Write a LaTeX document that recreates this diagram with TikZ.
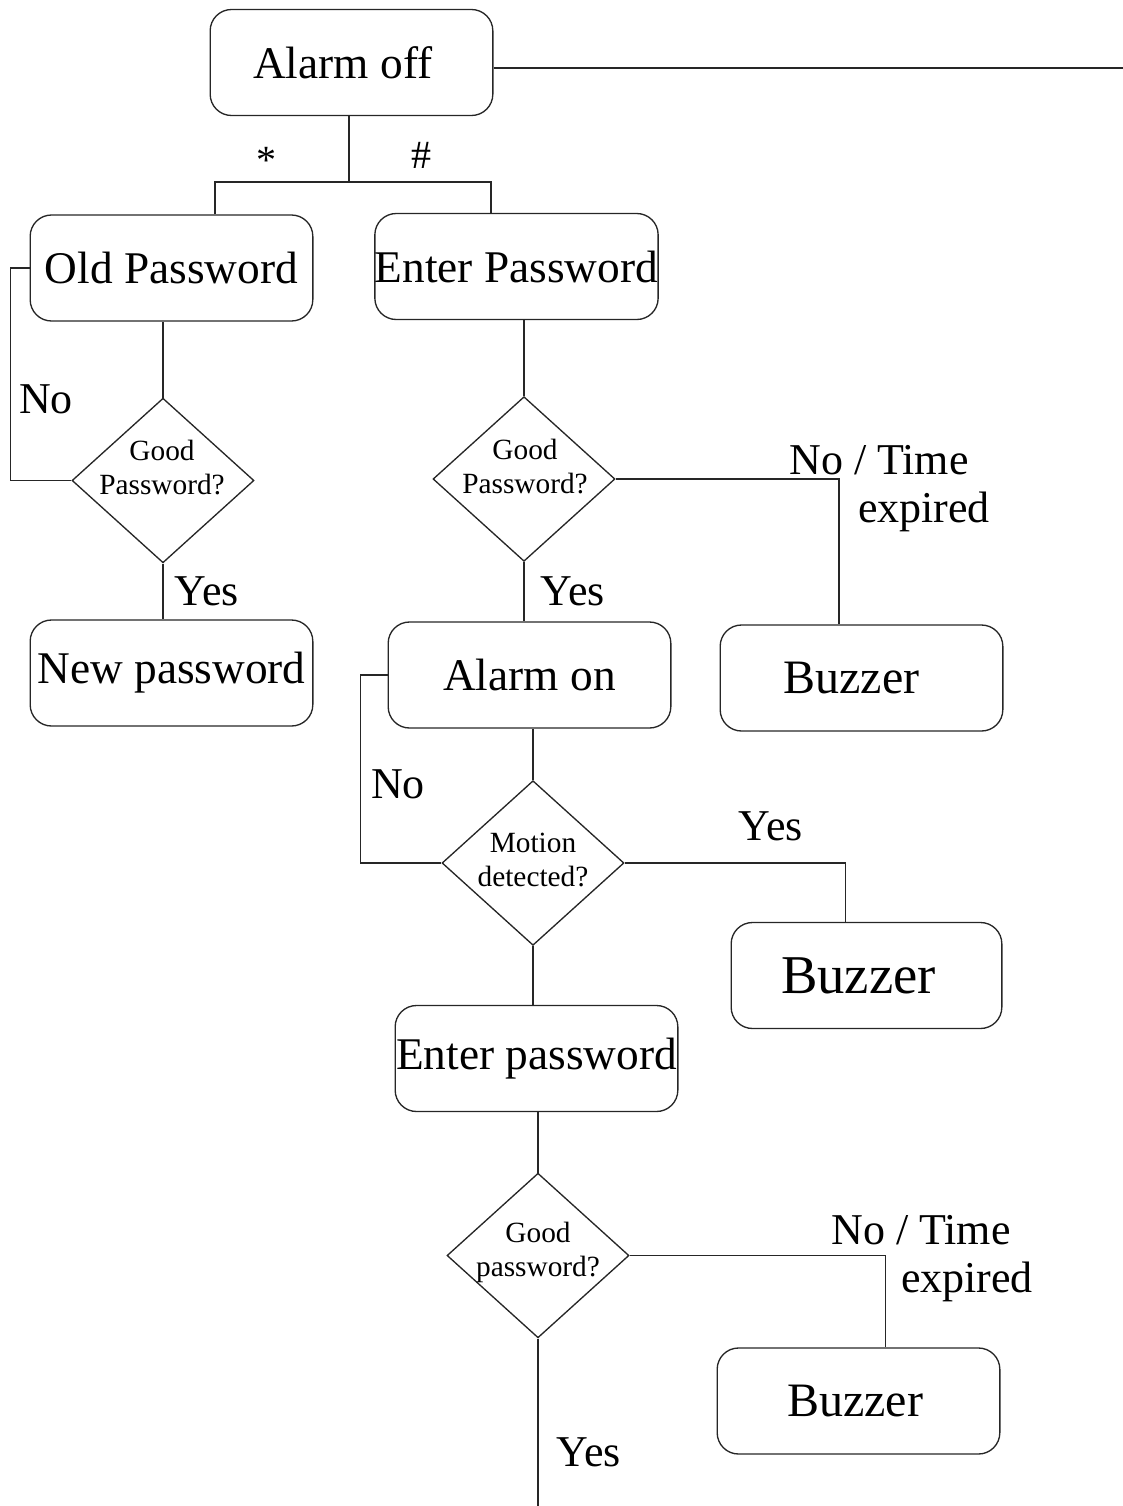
\documentclass[tikz,border=0pt]{standalone}
\usepackage{fontspec}
\setmainfont{Liberation Serif}
\usetikzlibrary{shapes.geometric}

\tikzset{
  state/.style={draw, rounded corners=16pt, minimum width=212pt, minimum height=79.5pt, inner sep=0pt, font=\fontsize{34}{40}\selectfont},
  ask/.style={draw, diamond, minimum width=136.5pt, minimum height=123.5pt, inner sep=0pt},
  asktext/.style={align=center, inner sep=0pt, font=\fontsize{22}{25.5}\selectfont},
  answer/.style={inner sep=0pt, font=\fontsize{33}{38}\selectfont},
}
% pushes a box text a little to the left
\newcommand{\lpad}[1]{\hskip#1\null}

\begin{document}
\begin{tikzpicture}[x=0.75pt,y=0.75pt,yscale=-1,xscale=1,line width=1pt,draw=black!85]
\useasboundingbox (0,0) rectangle (1123,1506);

%Boxes
\node[state] (off) at (351.5,62.5) {Alarm off\lpad{13pt}};
\node[state] (old) at (171.5,268) {Old Password};
\node[state] (enter) at (516.5,266.5) {Enter Password};
\node[state] (newpw) at (171.5,673) {New password};
\node[state] (on) at (529.5,675) {Alarm on};
\node[state, font=\fontsize{36}{42}\selectfont] (buzz1) at (861.5,678) {Buzzer\lpad{15pt}};
\node[state, minimum width=203pt, font=\fontsize{41}{48}\selectfont] (buzz2) at (866.5,975.5) {Buzzer\lpad{12pt}};
\node[state] (enter2) at (536.5,1058.5) {Enter password};
\node[state, font=\fontsize{36}{42}\selectfont] (buzz3) at (858.5,1401) {Buzzer\lpad{5pt}};

%Decisions
\node[ask] (q1) at (163,480.5) {};
\node[asktext] (q1t) at (162,468) {Good\\Password?};
\node[ask] (q2) at (524,479) {};
\node[asktext] (q2t) at (525,467) {Good\\Password?};
\node[ask] (q3) at (533,863) {};
\node[asktext] (q3t) at (533,860) {Motion\\detected?};
\node[ask] (q4) at (538,1255.5) {};
\node[asktext] (q4t) at (538,1252) {Good\\password?};

%Free ends
\coordinate (offend) at (1123,68);
\coordinate (split) at (349,182);
\coordinate (star) at (215,182);
\coordinate (hash) at (491,182);
\coordinate (exit) at (538,1506);

%Links
\draw (off.east |- offend) -- (offend);
\draw (split |- off.south) -- (split);
\draw (star |- old.north) -- (star) -- (hash) -- (hash |- enter.north);
\draw (q1.north) -- (q1.north |- old.south);
\draw (q1.west) -- ++(-61,0) |- (old.west);
\draw (q1.south) -- (q1.south |- newpw.north);
\draw (q2.north) -- (q2.north |- enter.south);
\draw (q2.east) -| ([xshift=-17pt]buzz1.north);
\draw (q2.south) -- (q2.south |- on.north);
\draw (on.west) -- ++(-27,0) |- (q3.west);
\draw (q3.north) -- (q3.north |- on.south);
\draw (q3.east) -| ([xshift=-16pt]buzz2.north);
\draw (q3.south) -- (q3.south |- enter2.north);
\draw (q4.north) -- (q4.north |- enter2.south);
\draw (q4.east) -| ([xshift=20pt]buzz3.north);
\draw (q4.south) -- (q4.south |- exit);

% Text Node
\node[answer, font=\fontsize{30}{36}\selectfont] (lstar) at (266,160) {*};
\node[answer, font=\fontsize{30}{36}\selectfont] (lhash) at (421,155) {\#};
\node[answer] (l1) at (46,399) {No};
\node[answer] (l2) at (207,591) {Yes};
\node[answer] (l3) at (879,460) {No / Time};
\node[answer] (l4) at (924,512) {expired};
\node[answer] (l5) at (573,591) {Yes};
\node[answer] (l6) at (398,784) {No};
\node[answer] (l7) at (771,826) {Yes};
\node[answer] (l8) at (921,1230) {No / Time};
\node[answer] (l9) at (967,1282) {expired};
\node[answer] (l10) at (589,1452) {Yes};

\end{tikzpicture}
\end{document}
